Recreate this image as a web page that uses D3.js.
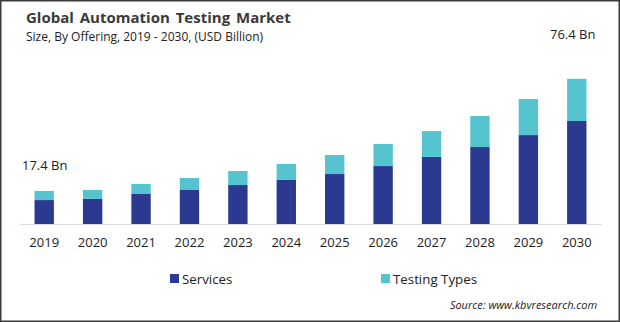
<!DOCTYPE html>
<html><head><meta charset="utf-8">
<script src="https://cdn.jsdelivr.net/npm/d3@7"></script>
<style>
html,body{margin:0;padding:0;background:#fff;}
svg{display:block;}
</style></head>
<body>
<svg id="chart" width="620" height="322"></svg>
<script>
const years = ["2019","2020","2021","2022","2023","2024","2025","2026","2027","2028","2029","2030"];
const services = [12.6, 13.2, 15.8, 17.9, 20.5, 23.2, 26.3, 30.5, 35.3, 40.5, 46.8, 54.2];
const testingTypes = [4.8, 4.7, 5.3, 6.3, 7.4, 8.4, 10.0, 11.6, 13.6, 16.3, 19.0, 22.2];
const seriesNames = ["Services", "Testing Types"];
const colors = ["#2b3990", "#55c4cf"];
const annotations = [{year:"2019", text:"17.4 Bn"}, {year:"2030", text:"76.4 Bn"}];

const svg = d3.select("#chart");
const W = 620, H = 322;
const font = "'Open Sans', 'Noto Sans', sans-serif";

svg.append("rect").attr("x",0.75).attr("y",0.75).attr("width",W-1.5).attr("height",H-1.5)
  .attr("fill","#fff").attr("stroke","#3a3a3a").attr("stroke-width",1.5);

const x = d3.scaleBand().domain(years).range([20, 601]).paddingInner(0.6).paddingOuter(0.3);
const y = d3.scaleLinear().domain([0, 80]).range([224, 224 - 80*1.9]);

const data = years.map((yr,i)=>({year:yr, Services:services[i], "Testing Types":testingTypes[i]}));
const stack = d3.stack().keys(seriesNames)(data);

svg.append("g").selectAll("g").data(stack).join("g")
  .attr("fill",(d,i)=>colors[i])
  .selectAll("rect").data(d=>d).join("rect")
  .attr("x",d=>x(d.data.year))
  .attr("width",x.bandwidth())
  .attr("y",d=>y(d[1]))
  .attr("height",d=>y(d[0])-y(d[1]));

const xAxis = d3.axisBottom(x).tickSize(0).tickPadding(14);
const gx = svg.append("g").attr("transform","translate(0,224)").call(xAxis);
gx.select(".domain").attr("stroke","#d9d9d9").attr("stroke-width",1.2);
gx.selectAll("text").attr("font-family",font).attr("font-size",13).attr("fill","#222");

// title
svg.append("text").attr("x",26).attr("y",23).text("Global Automation Testing Market")
  .attr("font-family",font).attr("font-weight","bold").attr("font-size",15).attr("word-spacing",2).attr("fill","#3a3a3a");
svg.append("text").attr("x",26).attr("y",41).text("Size, By Offering, 2019 - 2030, (USD Billion)")
  .attr("font-family",font).attr("font-size",12).attr("fill","#222");

// annotations
const a0 = annotations[0], a1 = annotations[1];
svg.append("text").attr("x",22).attr("y",170).text(a0.text)
  .attr("font-family",font).attr("font-size",13).attr("fill","#222");
svg.append("text").attr("x",x(a1.year)+x.bandwidth()+9).attr("y",39).attr("text-anchor","end").text(a1.text)
  .attr("font-family",font).attr("font-size",13).attr("fill","#222");

// legend
const legendX = [170, 381];
seriesNames.forEach((n,i)=>{
  svg.append("rect").attr("x",legendX[i]).attr("y",274).attr("width",9).attr("height",9).attr("fill",colors[i]);
  svg.append("text").attr("x",legendX[i]+12).attr("y",283.5).text(n)
    .attr("font-family",font).attr("font-size",13.3).attr("fill","#222");
});

svg.append("text").attr("x",597).attr("y",309).attr("text-anchor","end").text("Source: www.kbvresearch.com")
  .attr("font-family",font).attr("font-style","italic").attr("font-size",11).attr("fill","#222");
</script>
</body></html>
